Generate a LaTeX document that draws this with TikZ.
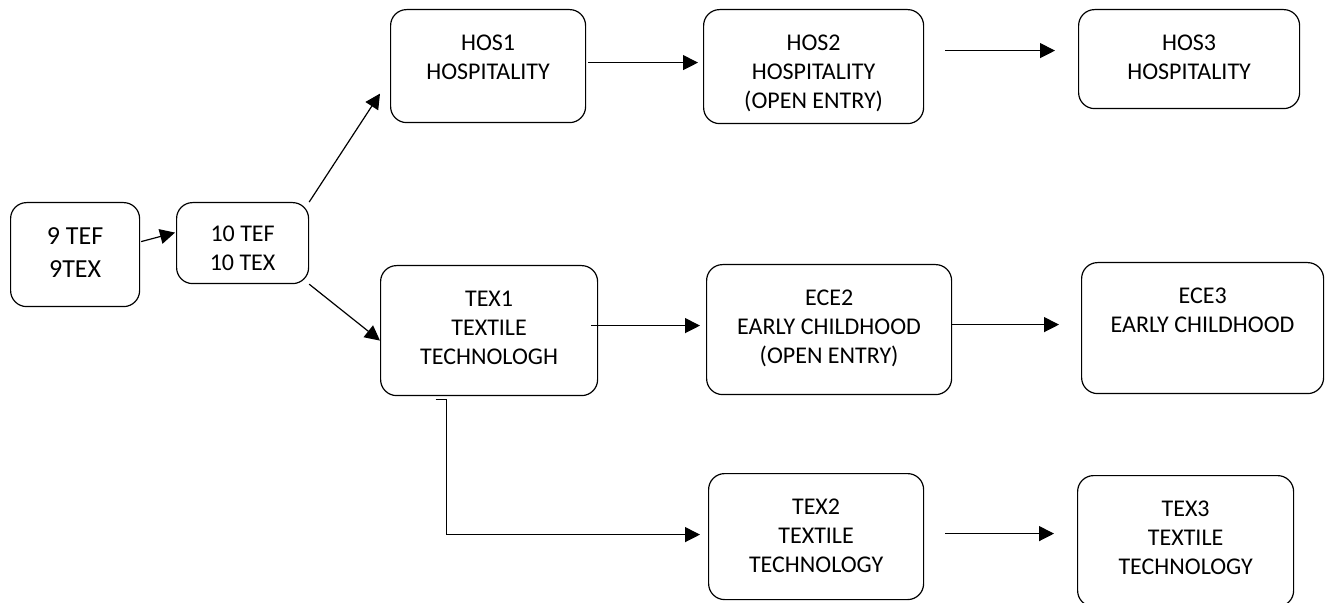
\documentclass[tikz,border=0pt]{standalone}
\usepackage{fontspec}
\setmainfont{Carlito}
\usetikzlibrary{arrows.meta,calc}

\begin{document}
\begin{tikzpicture}[
	x=0.5pt, y=-0.5pt,
	line width=0.6pt,
	box/.style={draw, rounded corners=8pt, anchor=north west, inner sep=0pt},
	txt/.style={anchor=north, align=center, inner sep=0pt, yshift=-12.7pt,
		font=\fontsize{12}{14.5}\selectfont},
	flow/.style={draw, -{Triangle[length=7.5pt,width=7.5pt]}}
]
\useasboundingbox (0,0) rectangle (1325,603);

% grade 9 and 10
\node[box, minimum width=64.5pt, minimum height=52pt,
	label={[txt, yshift=0.35pt, font=\fontsize{13}{16.5}\selectfont]north:9 TEF\\9TEX}] (g9) at (10,202) {};
\node[box, minimum width=66pt, minimum height=40.5pt,
	label={[txt, yshift=0.95pt]north:10 TEF\\10 TEX}] (g10) at (176,202) {};

% hospitality
\node[box, minimum width=97.5pt, minimum height=56.5pt,
	label={[txt]north:HOS1\\HOSPITALITY}] (hos1) at (390,9) {};
\node[box, minimum width=110pt, minimum height=57pt,
	label={[txt]north:HOS2\\HOSPITALITY\\(OPEN ENTRY)}] (hos2) at (703,9) {};
\node[box, minimum width=110.5pt, minimum height=49.5pt,
	label={[txt]north:HOS3\\HOSPITALITY}] (hos3) at (1078,9) {};

% textiles and early childhood
\node[box, minimum width=108.5pt, minimum height=65pt,
	label={[txt]north:TEX1\\TEXTILE\\TECHNOLOGH}] (tex1) at (380,265) {};
\node[box, minimum width=122.5pt, minimum height=65pt,
	label={[txt]north:ECE2\\EARLY CHILDHOOD\\(OPEN ENTRY)}] (ece2) at (706,264) {};
\node[box, minimum width=121pt, minimum height=65.5pt,
	label={[txt]north:ECE3\\EARLY CHILDHOOD}] (ece3) at (1081,262) {};
\node[box, minimum width=107.5pt, minimum height=63pt,
	label={[txt]north:TEX2\\TEXTILE\\TECHNOLOGY}] (tex2) at (708,473) {};
\node[box, minimum width=108pt, minimum height=65.5pt,
	label={[txt]north:TEX3\\TEXTILE\\TECHNOLOGY}] (tex3) at (1077,475) {};

\draw[flow] ($(g9.east)+(1,-13)$) -- ($(g10.west)+(-1,-10.5)$);
\draw[flow] (g10.north east) -- ($(hos1.west)+(-10,27.5)$);
\draw[flow] (g10.south east) -- ($(tex1.west)+(0,10)$);
\draw[flow] ($(hos1.east)+(2,-3.5)$) -- ($(hos2.west)+(-5,-4)$);
\draw[flow] ($(hos2.east)+(21,-16)$) -- ($(hos3.west)+(-23,-8.5)$);
\draw[flow] ($(tex1.east)+(-7,-5)$) -- ($(ece2.west)+(-6,-4)$);
\draw[flow] ($(ece2.east)+(0,-5)$) -- ($(ece3.west)+(-22,-3.5)$);
\draw[flow] ($(tex1.south)+(-53.5,3)$) -- ++(11,0) |- ($(tex2.west)+(-8,-2)$);
\draw[flow] ($(tex2.east)+(21,-3)$) -- ($(tex3.west)+(-23,-7.5)$);
\end{tikzpicture}
\end{document}
